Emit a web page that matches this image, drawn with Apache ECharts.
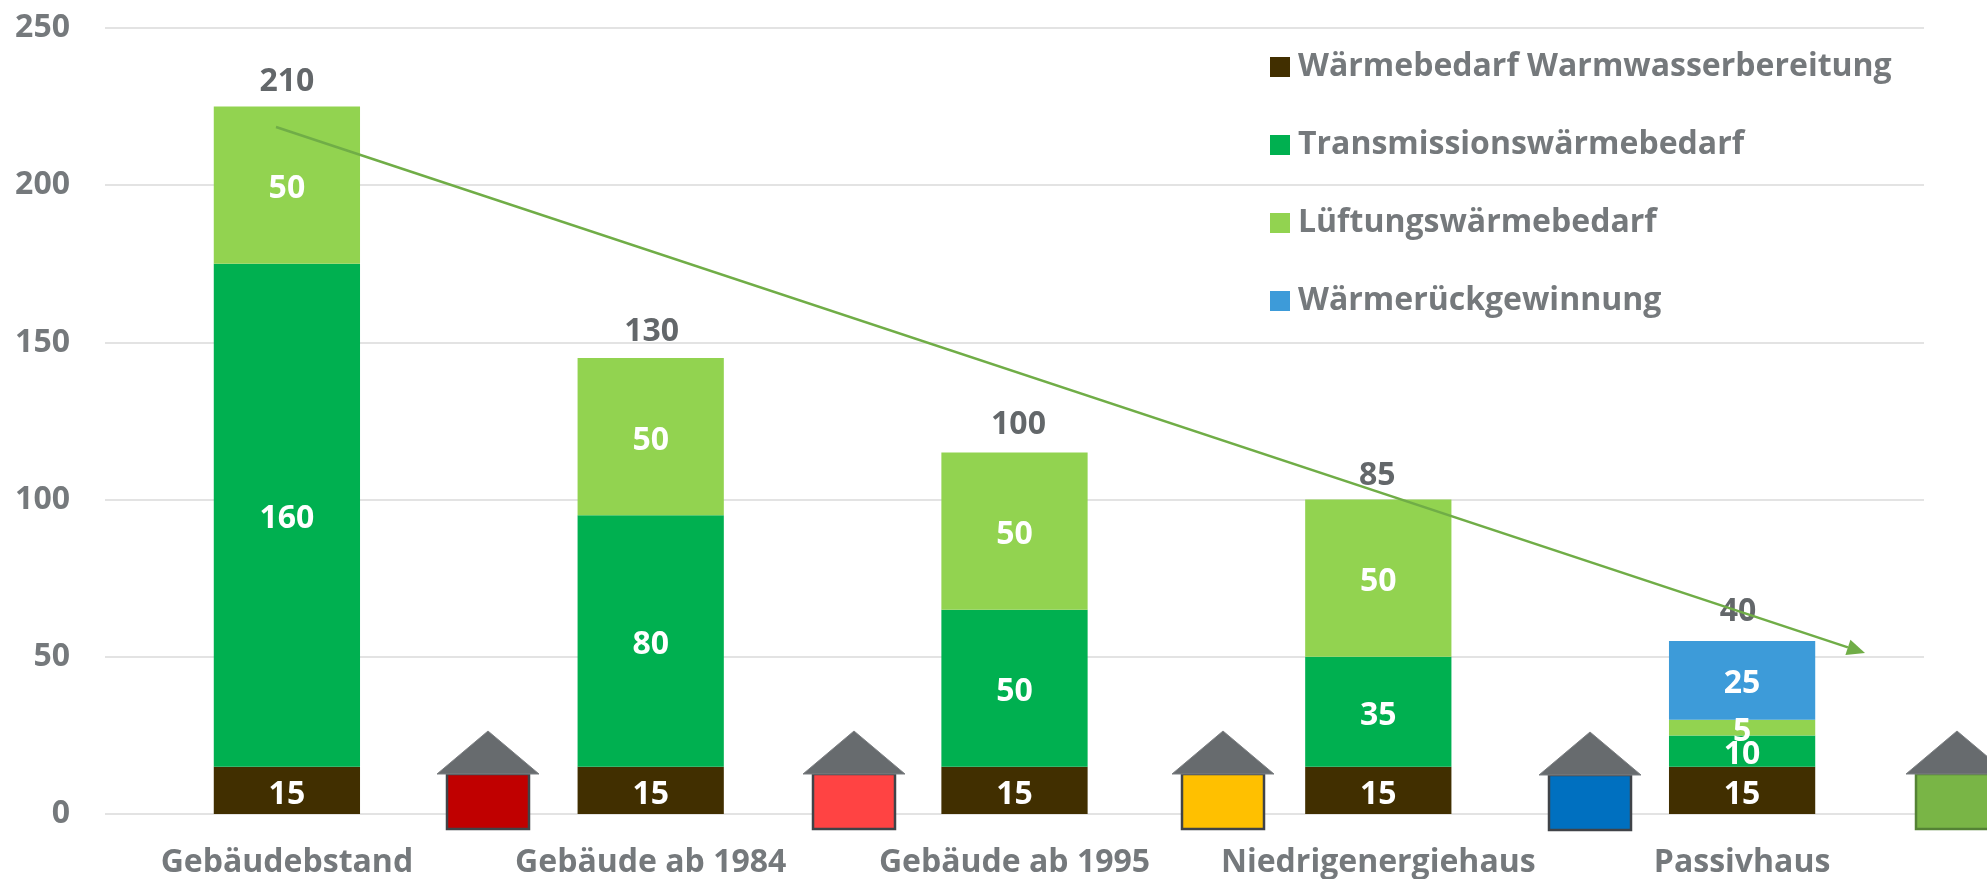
<!DOCTYPE html>
<html><head><meta charset="utf-8">
<style>html,body{margin:0;padding:0;background:#fff;overflow:hidden}#c{width:1987px;height:879px}</style>
<script src="https://cdn.jsdelivr.net/npm/echarts@6/dist/echarts.min.js"></script>
</head><body><div id="c"></div>
<script>
const categories = ['Gebäudebstand','Gebäude ab 1984','Gebäude ab 1995','Niedrigenergiehaus','Passivhaus'];
const warmwasser = [15,15,15,15,15];
const transmission = [160,80,50,35,10];
const lueftung = [50,50,50,50,5];
const rueckgewinnung = [null,null,null,null,25];
const totals = [210,130,100,85,40];
const yTicks = [0,50,100,150,200,250];
const names = ['Wärmebedarf Warmwasserbereitung','Transmissionswärmebedarf','Lüftungswärmebedarf','Wärmerückgewinnung'];
const colors = ['#412f00','#00b050','#92d350','#3d9bd9'];
const totalLabelNudge = [[0,0],[1,-2],[4,-3],[-1,1],[-4,-5]];

const FONT = '"Open Sans"';
const chart = echarts.init(document.getElementById('c'), null, {renderer:'canvas'});
const stacks = [warmwasser,transmission,lueftung,rueckgewinnung];
const tops = categories.map((_,i)=>stacks.reduce((s,a)=>s+(a[i]||0),0));

function house(cx, baseY, fill, stroke){
  return [
    {type:'rect',z:50,shape:{x:cx-41,y:baseY,width:82,height:55},style:{fill,stroke,lineWidth:2.5}},
    {type:'polygon',z:51,shape:{points:[[cx,baseY-43],[cx+51,baseY],[cx-51,baseY]]},style:{fill:'#676b6e',stroke:'#7d8083',lineWidth:1}}
  ];
}
const ax=276, ay=127, bx=1865, by=653;
const ang=Math.atan2(by-ay,bx-ax), L=18, W=8;
const bbx=bx-L*Math.cos(ang), bby=by-L*Math.sin(ang);
const graphics = [
  ...house(488,774,'#c00000','#404348'),
  ...house(854,774,'#ff4343','#404348'),
  ...house(1223,774,'#ffc000','#404348'),
  ...house(1590,775,'#0070c0','#404348'),
  ...house(1957,774,'#79b546','#548235'),
  {type:'line',z:60,shape:{x1:ax,y1:ay,x2:bbx,y2:bby},style:{stroke:'#70ad47',lineWidth:2.5}},
  {type:'polygon',z:60,shape:{points:[[bx,by],[bbx+W*Math.sin(ang),bby-W*Math.cos(ang)],[bbx-W*Math.sin(ang),bby+W*Math.cos(ang)]]},style:{fill:'#70ad47'}}
];

chart.setOption({
  animation:false,
  backgroundColor:'#fff',
  grid:{left:105,right:63,top:28,bottom:63.5,containLabel:false},
  legend:{
    orient:'vertical',left:1265,top:46,itemWidth:20,itemHeight:20,itemGap:46,
    icon:'rect',data:names,
    textStyle:{fontFamily:FONT,fontWeight:700,fontSize:32,lineHeight:30,color:'#75797c',padding:[0,0,0,3]}
  },
  xAxis:{
    type:'category',data:categories,
    axisLine:{show:false},axisTick:{show:false},
    axisLabel:{fontFamily:FONT,fontWeight:700,fontSize:32,color:'#75797c',margin:33,interval:0}
  },
  yAxis:{
    type:'value',min:0,max:250,interval:50,
    axisLine:{show:false},axisTick:{show:false},
    splitLine:{lineStyle:{color:'#e3e3e3',width:2}},
    axisLabel:{fontFamily:FONT,fontWeight:700,fontSize:32,color:'#75797c',margin:35,
      formatter:v=>yTicks.includes(v)?String(v):''}
  },
  series:[
    ...stacks.map((d,i)=>({
      name:names[i],type:'bar',stack:'a',data:d,barWidth:'40.2%',
      itemStyle:{color:colors[i]},
      label:{show:true,position:'inside',offset:[0,4],fontFamily:FONT,fontWeight:700,fontSize:32,color:'#fff'}
    })),
    {
      type:'line',silent:true,symbol:'circle',symbolSize:1,showSymbol:true,
      data:tops.map((v,i)=>({value:v,label:{offset:totalLabelNudge[i]}})),
      lineStyle:{color:'transparent',width:0},itemStyle:{color:'transparent'},
      label:{show:true,position:'top',distance:8,fontFamily:FONT,fontWeight:700,fontSize:32,color:'#63676a',
        formatter:p=>String(totals[p.dataIndex])}
    }
  ],
  graphic:graphics
});
</script></body></html>
